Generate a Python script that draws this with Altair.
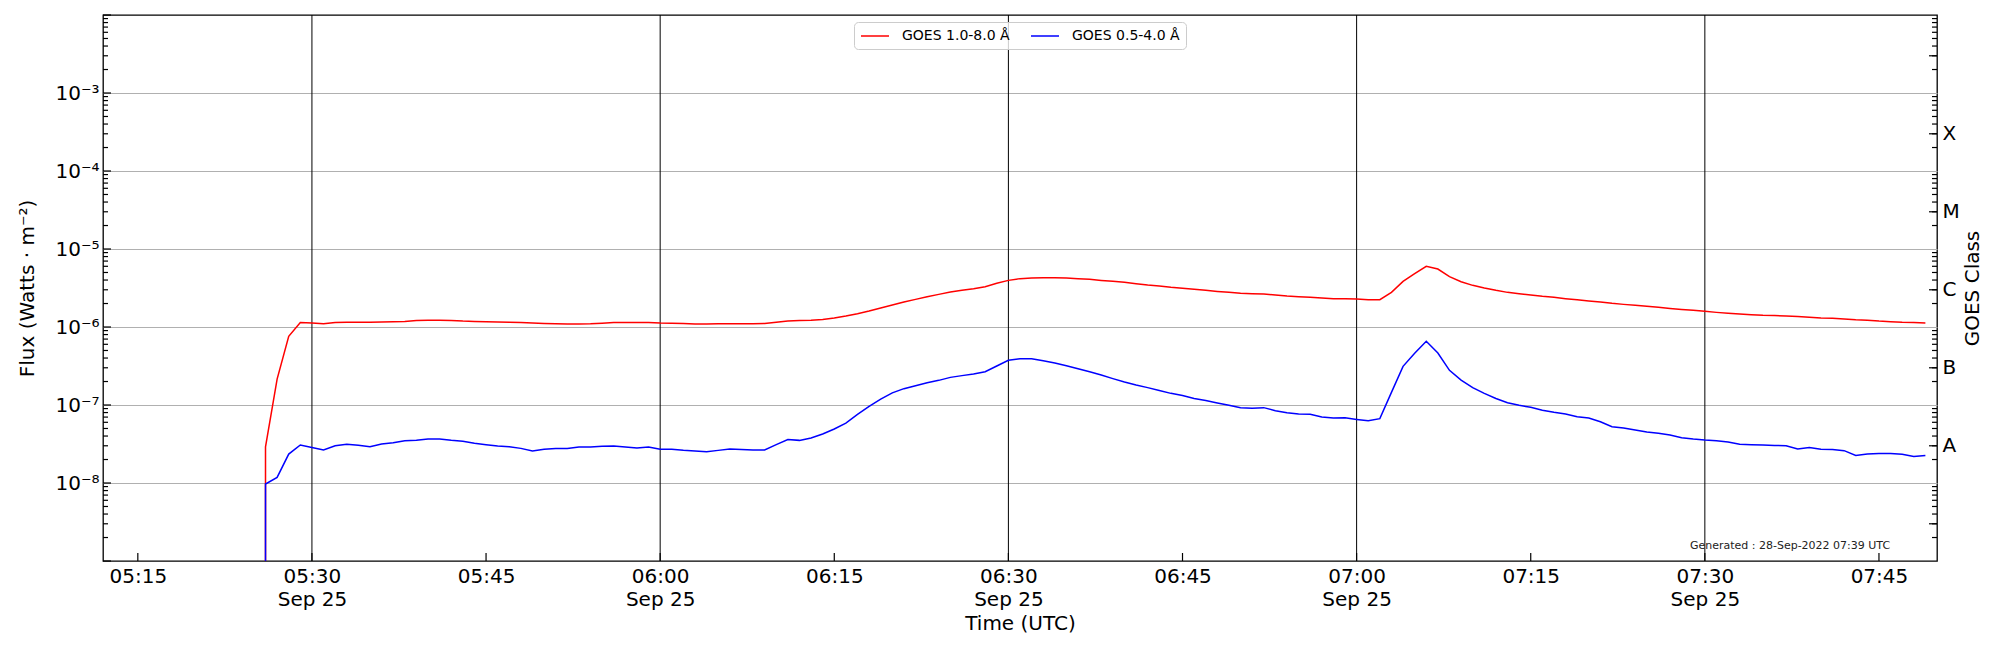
import altair as alt
import pandas as pd

# ---------------- data ----------------
start_minute = 5 * 60 + 26          # first sample 05:26 UTC, 1-minute cadence
date_str = "2022-09-25"

xrs_long = [  # GOES 1.0-8.0 Å, W m^-2, 05:26 ... 07:49
    2.9e-8, 2.15e-7, 7.6e-7, 1.14e-6,
    1.125e-6, 1.10e-6, 1.14e-6, 1.15e-6, 1.15e-6, 1.15e-6, 1.16e-6, 1.17e-6, 1.18e-6, 1.21e-6,
    1.22e-6, 1.22e-6, 1.21e-6, 1.19e-6, 1.18e-6, 1.17e-6, 1.16e-6, 1.15e-6, 1.14e-6, 1.125e-6,
    1.11e-6, 1.10e-6, 1.09e-6, 1.09e-6, 1.10e-6, 1.12e-6, 1.14e-6, 1.14e-6, 1.14e-6, 1.14e-6,
    1.125e-6, 1.12e-6, 1.11e-6, 1.09e-6, 1.09e-6, 1.10e-6, 1.10e-6, 1.10e-6, 1.10e-6, 1.11e-6,
    1.15e-6, 1.19e-6, 1.21e-6, 1.22e-6, 1.25e-6, 1.30e-6, 1.38e-6, 1.48e-6, 1.60e-6, 1.75e-6,
    1.91e-6, 2.09e-6, 2.26e-6, 2.45e-6, 2.62e-6, 2.81e-6, 2.95e-6, 3.10e-6, 3.29e-6, 3.63e-6,
    3.96e-6, 4.17e-6, 4.25e-6, 4.29e-6, 4.29e-6, 4.25e-6, 4.17e-6, 4.08e-6, 3.96e-6, 3.85e-6,
    3.74e-6, 3.59e-6, 3.45e-6, 3.36e-6, 3.23e-6, 3.13e-6, 3.04e-6, 2.95e-6, 2.86e-6, 2.78e-6,
    2.70e-6, 2.67e-6, 2.65e-6, 2.57e-6, 2.49e-6, 2.45e-6, 2.40e-6, 2.35e-6, 2.31e-6, 2.31e-6,
    2.28e-6, 2.24e-6, 2.24e-6, 2.78e-6, 3.85e-6, 4.83e-6, 6.0e-6, 5.54e-6, 4.42e-6, 3.81e-6,
    3.42e-6, 3.16e-6, 2.95e-6, 2.78e-6, 2.67e-6, 2.57e-6, 2.47e-6, 2.40e-6, 2.31e-6, 2.23e-6,
    2.16e-6, 2.09e-6, 2.01e-6, 1.95e-6, 1.90e-6, 1.84e-6, 1.79e-6, 1.73e-6, 1.68e-6, 1.64e-6,
    1.59e-6, 1.54e-6, 1.50e-6, 1.47e-6, 1.44e-6, 1.41e-6, 1.40e-6, 1.38e-6, 1.36e-6, 1.33e-6,
    1.30e-6, 1.29e-6, 1.27e-6, 1.24e-6, 1.22e-6, 1.19e-6, 1.17e-6, 1.15e-6, 1.14e-6, 1.125e-6,
]

xrs_short = [  # GOES 0.5-4.0 Å, W m^-2, 05:26 ... 07:49
    9.7e-9, 1.18e-8, 2.35e-8, 3.07e-8,
    2.86e-8, 2.65e-8, 3.0e-8, 3.13e-8, 3.04e-8, 2.92e-8, 3.16e-8, 3.29e-8, 3.49e-8, 3.52e-8,
    3.66e-8, 3.66e-8, 3.52e-8, 3.42e-8, 3.23e-8, 3.10e-8, 2.98e-8, 2.92e-8, 2.78e-8, 2.57e-8,
    2.70e-8, 2.76e-8, 2.76e-8, 2.90e-8, 2.90e-8, 2.95e-8, 2.98e-8, 2.90e-8, 2.81e-8, 2.90e-8,
    2.70e-8, 2.70e-8, 2.62e-8, 2.57e-8, 2.52e-8, 2.62e-8, 2.73e-8, 2.68e-8, 2.65e-8, 2.65e-8,
    3.10e-8, 3.60e-8, 3.52e-8, 3.78e-8, 4.25e-8, 4.92e-8, 5.87e-8, 7.6e-8, 9.6e-8, 1.19e-7,
    1.43e-7, 1.62e-7, 1.77e-7, 1.93e-7, 2.07e-7, 2.26e-7, 2.38e-7, 2.50e-7, 2.67e-7, 3.16e-7,
    3.74e-7, 3.93e-7, 3.93e-7, 3.70e-7, 3.45e-7, 3.19e-7, 2.92e-7, 2.67e-7, 2.43e-7, 2.18e-7,
    1.97e-7, 1.80e-7, 1.67e-7, 1.53e-7, 1.41e-7, 1.32e-7, 1.21e-7, 1.14e-7, 1.06e-7, 9.9e-8,
    9.25e-8, 9.06e-8, 9.25e-8, 8.45e-8, 7.97e-8, 7.67e-8, 7.6e-8, 7.02e-8, 6.81e-8, 6.85e-8,
    6.54e-8, 6.29e-8, 6.68e-8, 1.45e-7, 3.13e-7, 4.6e-7, 6.55e-7, 4.64e-7, 2.78e-7, 2.09e-7,
    1.67e-7, 1.41e-7, 1.21e-7, 1.07e-7, 9.9e-8, 9.33e-8, 8.55e-8, 8.05e-8, 7.67e-8, 7.05e-8,
    6.81e-8, 6.1e-8, 5.27e-8, 5.07e-8, 4.78e-8, 4.51e-8, 4.33e-8, 4.12e-8, 3.81e-8, 3.66e-8,
    3.56e-8, 3.49e-8, 3.36e-8, 3.13e-8, 3.10e-8, 3.06e-8, 3.03e-8, 3.01e-8, 2.73e-8, 2.86e-8,
    2.70e-8, 2.68e-8, 2.60e-8, 2.26e-8, 2.35e-8, 2.39e-8, 2.39e-8, 2.33e-8, 2.18e-8, 2.26e-8,
]
drop_value = 1e-12   # the curves start from below the axis at 05:26

series_names = ["GOES 1.0-8.0 Å", "GOES 0.5-4.0 Å"]
series_colors = ["#ff0000", "#0000ff"]

x_domain = ["05:12", "07:50"]
x_tick_times = ["05:15", "05:30", "05:45", "06:00", "06:15", "06:30", "06:45",
                "07:00", "07:15", "07:30", "07:45"]
x_major_times = ["05:30", "06:00", "06:30", "07:00", "07:30"]
date_label = "Sep 25"

y_domain = [1e-9, 1e-2]
y_label_values = [1e-8, 1e-7, 1e-6, 1e-5, 1e-4, 1e-3]
y_labels = ["10⁻⁸", "10⁻⁷", "10⁻⁶", "10⁻⁵", "10⁻⁴", "10⁻³"]
decade_exponents = [-9, -8, -7, -6, -5, -4, -3, -2]
minor_multipliers = [2, 3, 4, 5, 6, 7, 8, 9]

class_values = [3e-8, 3e-7, 3e-6, 3e-5, 3e-4]
class_labels = ["A", "B", "C", "M", "X"]
class_tick_values = [3e-9, 3e-8, 3e-7, 3e-6, 3e-5, 3e-4, 3e-3]

generated_text = "Generated : 28-Sep-2022 07:39 UTC"

# ---------------- tables ----------------
def iso(hhmm):
    return f"{date_str}T{hhmm}:00Z"

def minute_iso(m):
    return f"{date_str}T{m // 60:02d}:{m % 60:02d}:00Z"

rows = []
for name, vals in zip(series_names, [xrs_long, xrs_short]):
    rows.append({"time": minute_iso(start_minute), "flux": drop_value, "series": name, "idx": 0})
    for i, v in enumerate(vals):
        rows.append({"time": minute_iso(start_minute + i), "flux": v, "series": name, "idx": i + 1})
df = pd.DataFrame(rows)

major_y = pd.DataFrame({"v": [10.0 ** e for e in decade_exponents]})
minor_y = pd.DataFrame({"v": [m * 10.0 ** e for e in decade_exponents[:-1] for m in minor_multipliers]})
class_y = pd.DataFrame({"v": class_tick_values})
xt = pd.DataFrame({"t": [iso(t) for t in x_tick_times]})
xm = pd.DataFrame({"t": [iso(t) for t in x_major_times]})
gen = pd.DataFrame({"txt": [generated_text]})

W, H = 1834, 546
FONT = "DejaVu Sans"

def dt(hhmm):
    h, m = hhmm.split(":")
    return alt.DateTime(year=2022, month=9, date=25, hours=int(h), minutes=int(m), utc=True)

xscale = alt.Scale(type="utc", domain=[dt(x_domain[0]), dt(x_domain[1])], nice=False)
yscale = alt.Scale(type="log", domain=y_domain, nice=False)

y_label_expr = "[" + ",".join(f"'{s}'" for s in y_labels) + "][round(log(datum.value)/LN10) + 8]"
class_label_expr = "[" + ",".join(f"'{s}'" for s in class_labels) + "][round(log(datum.value)/LN10) + 8]"
x_label_expr = (f"(utcminutes(datum.value) % 30 == 0) ? "
                f"[utcFormat(datum.value, '%H:%M'), '{date_label}'] : utcFormat(datum.value, '%H:%M')")

x_axis = alt.Axis(values=[dt(t) for t in x_tick_times], labelExpr=x_label_expr, title="Time (UTC)",
                  grid=False, ticks=False, tickSize=0, domain=False, labelPadding=5,
                  labelLineHeight=23, titlePadding=4, labelFlush=False, labelOverlap=False,
                  orient="bottom")
left_axis = alt.Axis(values=y_label_values, labelExpr=y_label_expr, title="Flux (Watts · m⁻²)",
                     grid=True, gridColor="#b0b0b0", gridWidth=1, ticks=False, tickSize=0,
                     domain=False, labelPadding=4, titlePadding=17, orient="left",
                     labelFlush=False, labelOverlap=False)
right_axis = alt.Axis(values=class_values, labelExpr=class_label_expr, title="GOES Class",
                      grid=False, ticks=False, tickSize=0, domain=False, labelPadding=5,
                      orient="right", titleAngle=270, titleBaseline="top", titlePadding=3,
                      labelAlign="left", labelFlush=False, labelOverlap=False)

vgrid = alt.Chart(xm).mark_rule(color="black", strokeWidth=1).encode(
    x=alt.X("t:T", scale=xscale, axis=None), y=alt.value(0), y2=alt.value(H))

lines = alt.Chart(df).mark_line(strokeWidth=1.5, clip=True).encode(
    x=alt.X("time:T", scale=xscale, axis=x_axis),
    y=alt.Y("flux:Q", scale=yscale, axis=left_axis),
    color=alt.Color("series:N", scale=alt.Scale(domain=series_names, range=series_colors),
                    legend=alt.Legend(title=None, orient="none", legendX=751, legendY=7,
                                      direction="horizontal", symbolType="M-1,0H3", symbolSize=196,
                                      symbolStrokeWidth=1.5, labelFontSize=14, labelOffset=26,
                                      columnPadding=18, padding=6, fillColor="rgba(255,255,255,0.8)",
                                      strokeColor="#cccccc", cornerRadius=4, labelFont=FONT,
                                      labelColor="black")),
    order=alt.Order("idx:Q"),
)

tick_color = "black"
tw = 1.2
left_major = alt.Chart(major_y).mark_rule(color=tick_color, strokeWidth=tw).encode(
    y=alt.Y("v:Q", scale=yscale, axis=None), x=alt.value(0), x2=alt.value(8))
left_minor = alt.Chart(minor_y).mark_rule(color=tick_color, strokeWidth=tw).encode(
    y=alt.Y("v:Q", scale=yscale, axis=None), x=alt.value(0), x2=alt.value(5))
right_minor = alt.Chart(minor_y).mark_rule(color=tick_color, strokeWidth=tw).encode(
    y=alt.Y("v:Q", scale=yscale, axis=None), x=alt.value(W), x2=alt.value(W - 5))
right_major = alt.Chart(class_y).mark_rule(color=tick_color, strokeWidth=tw).encode(
    y=alt.Y("v:Q", scale=yscale, axis=right_axis), x=alt.value(W), x2=alt.value(W - 8))
bottom_ticks = alt.Chart(xt).mark_rule(color=tick_color, strokeWidth=tw).encode(
    x=alt.X("t:T", scale=xscale, axis=None), y=alt.value(H), y2=alt.value(H - 8))

gen_text = alt.Chart(gen).mark_text(fontSize=11, font=FONT, color="#222222", align="center",
                                    baseline="alphabetic").encode(
    text="txt:N", x=alt.value(1687), y=alt.value(534))

chart = alt.layer(
    vgrid, lines, left_major, left_minor, right_minor, bottom_ticks, gen_text, right_major
).resolve_axis(x="independent", y="independent").properties(
    width=W, height=H,
    padding={"left": 95, "top": 7, "right": 52, "bottom": 80},
    autosize=alt.AutoSizeParams(type="none"),
).configure(font=FONT).configure_view(stroke="black", strokeWidth=1.3).configure_axis(
    labelFont=FONT, titleFont=FONT, labelFontSize=20, titleFontSize=20,
    labelColor="black", titleColor="black", titleFontWeight="normal",
)

chart.save("out.html", embed_options={"renderer": "svg", "actions": False})
